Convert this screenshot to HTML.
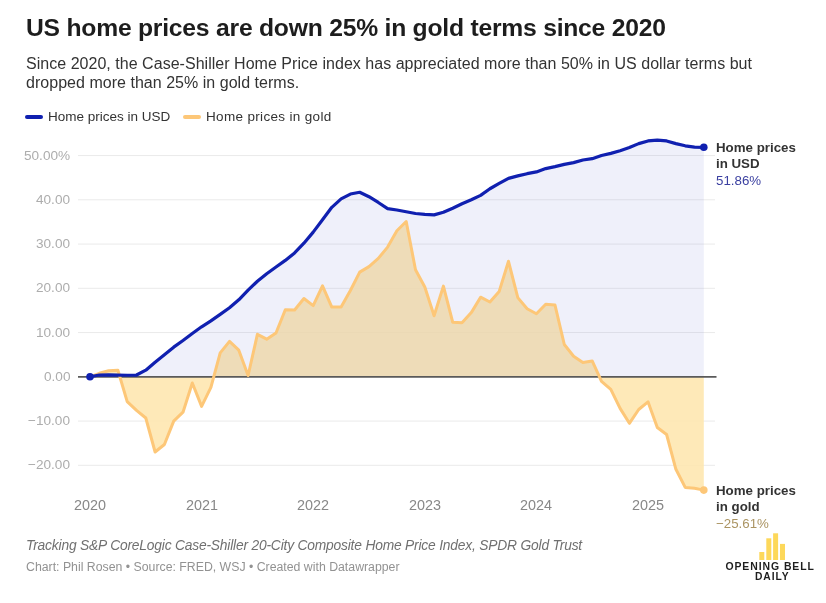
<!DOCTYPE html>
<html><head><meta charset="utf-8"><style>
html,body{margin:0;padding:0;background:#fff;}
body{width:826px;height:603px;position:relative;overflow:hidden;font-family:"Liberation Sans",sans-serif;}
.a,.yl,.xl{will-change:transform;}
.a{position:absolute;white-space:nowrap;}
#title{left:26px;top:13.6px;font-size:24.7px;font-weight:bold;color:#1d1d1d;letter-spacing:-0.23px;}
#sub{left:26px;top:53.5px;font-size:16px;line-height:19.2px;color:#333;letter-spacing:0.03px;}
.leg{top:109px;font-size:13.5px;color:#333;}
.sw{position:absolute;top:115px;width:18px;height:4px;border-radius:2px;}
.yl{position:absolute;right:755.6px;font-size:13.6px;line-height:16px;color:#adadad;white-space:nowrap;text-align:right;}
.xl{position:absolute;top:497.2px;width:60px;text-align:center;font-size:14.4px;line-height:16px;color:#888;}
svg{position:absolute;left:0;top:0;}
.lab{font-size:13.3px;line-height:16px;color:#333;font-weight:bold;}
.val{font-size:13.3px;line-height:16px;}
#note{left:26px;top:538.2px;font-size:13.8px;letter-spacing:-0.19px;font-style:italic;color:#707070;}
#src{left:26px;top:560.1px;font-size:12.3px;color:#929292;}
</style></head><body>
<div id="title" class="a">US home prices are down 25% in gold terms since 2020</div>
<div id="sub" class="a">Since 2020, the Case-Shiller Home Price index has appreciated more than 50% in US dollar terms but<br>dropped more than 25% in gold terms.</div>
<div class="sw" style="left:25px;background:#1020b0"></div>
<div class="a leg" style="left:48px">Home prices in USD</div>
<div class="sw" style="left:183px;background:#fdc778"></div>
<div class="a leg" style="left:206px;letter-spacing:0.33px">Home prices in gold</div>
<svg width="826" height="603" viewBox="0 0 826 603">
<line x1="78" x2="715" y1="155.55" y2="155.55" stroke="#000" stroke-opacity="0.085" stroke-width="1"/><line x1="78" x2="715" y1="199.80" y2="199.80" stroke="#000" stroke-opacity="0.085" stroke-width="1"/><line x1="78" x2="715" y1="244.05" y2="244.05" stroke="#000" stroke-opacity="0.085" stroke-width="1"/><line x1="78" x2="715" y1="288.30" y2="288.30" stroke="#000" stroke-opacity="0.085" stroke-width="1"/><line x1="78" x2="715" y1="332.55" y2="332.55" stroke="#000" stroke-opacity="0.085" stroke-width="1"/><line x1="78" x2="715" y1="421.05" y2="421.05" stroke="#000" stroke-opacity="0.085" stroke-width="1"/><line x1="78" x2="715" y1="465.30" y2="465.30" stroke="#000" stroke-opacity="0.085" stroke-width="1"/>
<polygon points="90.0,376.8 90.0,376.8 99.3,373.3 108.6,370.8 117.9,370.2 127.2,401.6 136.5,410.4 145.8,418.0 155.1,452.0 164.4,444.5 173.7,421.1 183.0,412.2 192.3,383.0 201.6,406.4 210.9,387.4 220.2,352.9 229.5,341.4 238.8,350.2 248.1,375.5 257.4,334.3 266.7,339.2 276.0,333.0 285.3,309.8 294.6,310.0 303.9,298.5 313.2,305.6 322.5,285.9 331.8,307.1 341.1,306.9 350.4,290.5 359.7,272.1 369.0,266.6 378.3,258.4 387.6,247.1 396.9,230.8 406.2,221.5 415.5,269.7 424.8,287.0 434.1,315.7 443.4,286.1 452.7,322.2 462.0,322.8 471.3,312.6 480.6,297.2 489.9,302.0 499.2,291.4 508.5,261.3 517.8,297.6 527.1,308.7 536.4,313.7 545.7,304.2 555.0,305.1 564.3,344.5 573.6,356.2 582.9,362.4 592.2,360.9 601.5,381.4 610.8,389.4 620.1,408.4 629.4,423.3 638.7,409.5 648.0,401.8 657.3,427.5 666.6,434.5 675.9,469.3 685.2,487.4 694.5,488.3 703.8,490.1 703.8,376.8" fill="#fee5ac" fill-opacity="0.85"/>
<path d="M90.00,376.80 L99.30,375.03 L108.60,374.81 L117.90,375.03 L127.20,375.25 L136.50,375.03 L145.80,370.16 L155.10,362.20 L164.40,354.68 L173.70,347.15 L183.00,340.51 L192.30,333.44 L201.60,326.80 L210.90,320.82 L220.20,314.41 L229.50,307.77 L238.80,299.81 L248.10,290.07 L257.40,281.22 L266.70,273.70 L276.00,267.06 L285.30,260.42 L294.60,252.90 L303.90,243.17 L313.20,232.10 L322.50,219.71 L331.80,207.32 L341.10,198.91 L350.40,194.05 L359.70,192.28 L369.00,196.70 L378.30,202.46 L387.60,208.65 L396.90,209.98 L406.20,211.75 L415.50,213.52 L424.80,214.40 L434.10,214.84 L443.40,212.19 L452.70,208.21 L462.00,203.78 L471.30,199.80 L480.60,195.38 L489.90,188.74 L499.20,183.43 L508.50,178.34 L517.80,175.91 L527.10,173.69 L536.40,171.92 L545.70,168.60 L555.00,166.61 L564.30,164.40 L573.60,162.63 L582.90,159.98 L592.20,158.65 L601.50,155.55 L610.80,153.34 L620.10,150.68 L629.40,147.59 L638.70,143.60 L648.00,140.95 L657.30,140.06 L666.60,140.95 L675.90,143.60 L685.20,145.81 L694.50,147.14 L703.80,147.32 L703.80,376.80 L90.00,376.80 Z" fill="#1020b0" fill-opacity="0.065"/>
<line x1="78" x2="716.5" y1="376.9" y2="376.9" stroke="#5a5a5a" stroke-width="1.8"/>
<polyline points="90.0,376.8 99.3,373.3 108.6,370.8 117.9,370.2 127.2,401.6 136.5,410.4 145.8,418.0 155.1,452.0 164.4,444.5 173.7,421.1 183.0,412.2 192.3,383.0 201.6,406.4 210.9,387.4 220.2,352.9 229.5,341.4 238.8,350.2 248.1,375.5 257.4,334.3 266.7,339.2 276.0,333.0 285.3,309.8 294.6,310.0 303.9,298.5 313.2,305.6 322.5,285.9 331.8,307.1 341.1,306.9 350.4,290.5 359.7,272.1 369.0,266.6 378.3,258.4 387.6,247.1 396.9,230.8 406.2,221.5 415.5,269.7 424.8,287.0 434.1,315.7 443.4,286.1 452.7,322.2 462.0,322.8 471.3,312.6 480.6,297.2 489.9,302.0 499.2,291.4 508.5,261.3 517.8,297.6 527.1,308.7 536.4,313.7 545.7,304.2 555.0,305.1 564.3,344.5 573.6,356.2 582.9,362.4 592.2,360.9 601.5,381.4 610.8,389.4 620.1,408.4 629.4,423.3 638.7,409.5 648.0,401.8 657.3,427.5 666.6,434.5 675.9,469.3 685.2,487.4 694.5,488.3 703.8,490.1" fill="none" stroke="#fdc778" stroke-width="3" stroke-linejoin="round" stroke-linecap="round"/>
<path d="M90.00,376.80 L99.30,375.03 L108.60,374.81 L117.90,375.03 L127.20,375.25 L136.50,375.03 L145.80,370.16 L155.10,362.20 L164.40,354.68 L173.70,347.15 L183.00,340.51 L192.30,333.44 L201.60,326.80 L210.90,320.82 L220.20,314.41 L229.50,307.77 L238.80,299.81 L248.10,290.07 L257.40,281.22 L266.70,273.70 L276.00,267.06 L285.30,260.42 L294.60,252.90 L303.90,243.17 L313.20,232.10 L322.50,219.71 L331.80,207.32 L341.10,198.91 L350.40,194.05 L359.70,192.28 L369.00,196.70 L378.30,202.46 L387.60,208.65 L396.90,209.98 L406.20,211.75 L415.50,213.52 L424.80,214.40 L434.10,214.84 L443.40,212.19 L452.70,208.21 L462.00,203.78 L471.30,199.80 L480.60,195.38 L489.90,188.74 L499.20,183.43 L508.50,178.34 L517.80,175.91 L527.10,173.69 L536.40,171.92 L545.70,168.60 L555.00,166.61 L564.30,164.40 L573.60,162.63 L582.90,159.98 L592.20,158.65 L601.50,155.55 L610.80,153.34 L620.10,150.68 L629.40,147.59 L638.70,143.60 L648.00,140.95 L657.30,140.06 L666.60,140.95 L675.90,143.60 L685.20,145.81 L694.50,147.14 L703.80,147.32" fill="none" stroke="#1020b0" stroke-width="3.2" stroke-linejoin="round" stroke-linecap="round"/>
<circle cx="90.0" cy="376.8" r="3.8" fill="#1020b0"/>
<circle cx="703.8" cy="147.3" r="3.8" fill="#1020b0"/>
<circle cx="703.8" cy="490.1" r="3.8" fill="#fdc778"/>
</svg>
<div class="yl" style="top:147.50px">50.00%</div><div class="yl" style="top:191.75px">40.00</div><div class="yl" style="top:236.00px">30.00</div><div class="yl" style="top:280.25px">20.00</div><div class="yl" style="top:324.50px">10.00</div><div class="yl" style="top:368.75px">0.00</div><div class="yl" style="top:413.00px">−10.00</div><div class="yl" style="top:457.25px">−20.00</div>
<div class="xl" style="left:60.0px">2020</div><div class="xl" style="left:171.6px">2021</div><div class="xl" style="left:283.2px">2022</div><div class="xl" style="left:394.8px">2023</div><div class="xl" style="left:506.4px">2024</div><div class="xl" style="left:618.0px">2025</div>
<div class="a lab" style="left:715.6px;top:139.9px">Home prices<br>in USD</div>
<div class="a val" style="left:715.6px;top:172.8px;color:#3a3fa0">51.86%</div>
<div class="a lab" style="left:715.6px;top:482.9px">Home prices<br>in gold</div>
<div class="a val" style="left:715.6px;top:515.8px;color:#ab9462">−25.61%</div>
<div id="note" class="a">Tracking S&amp;P CoreLogic Case-Shiller 20-City Composite Home Price Index, SPDR Gold Trust</div>
<div id="src" class="a">Chart: Phil Rosen &bull; Source: FRED, WSJ &bull; Created with Datawrapper</div>
<svg width="826" height="603" viewBox="0 0 826 603" style="pointer-events:none">
<rect x="759.3" y="552" width="5" height="8" fill="#fdd85a"/>
<rect x="766.3" y="538.3" width="5" height="21.7" fill="#fdd85a"/>
<rect x="773.1" y="533.3" width="5" height="26.7" fill="#fdd85a"/>
<rect x="780" y="543.9" width="5" height="16.1" fill="#fdd85a"/>
</svg>
<svg width="826" height="603" viewBox="0 0 826 603" style="pointer-events:none;will-change:transform">
<text x="725.4" y="570.4" font-family="Liberation Sans" font-weight="bold" font-size="10" fill="#1e1e1e" textLength="89.5" lengthAdjust="spacingAndGlyphs" style="letter-spacing:0.9px">OPENING BELL</text>
<text x="755" y="580.4" font-family="Liberation Sans" font-weight="bold" font-size="10" fill="#1e1e1e" textLength="34.6" lengthAdjust="spacingAndGlyphs" style="letter-spacing:0.9px">DAILY</text>
</svg>
</body></html>
